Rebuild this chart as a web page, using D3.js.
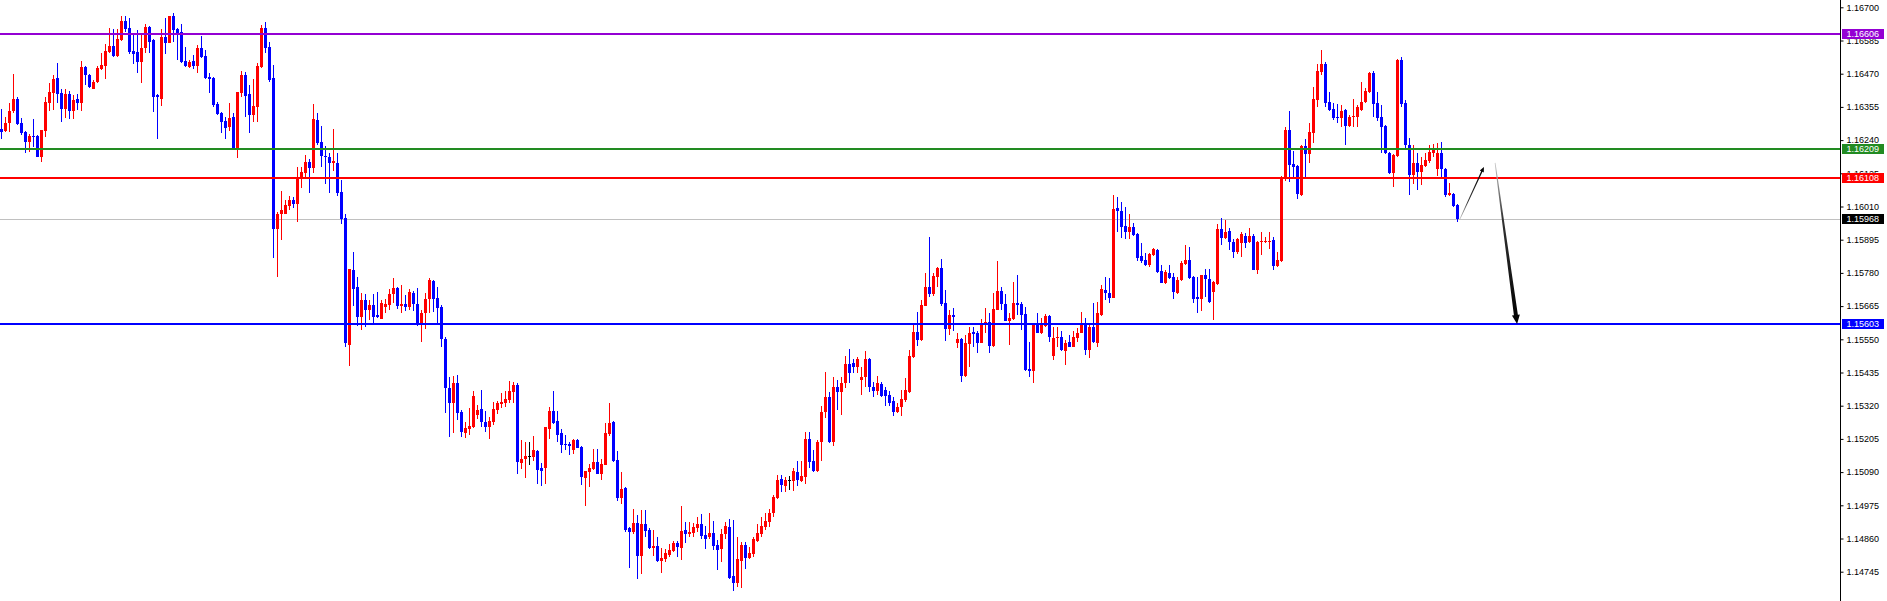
<!DOCTYPE html>
<html>
<head>
<meta charset="utf-8">
<script src="https://cdn.jsdelivr.net/npm/d3@7"></script>
<style>
  html, body { margin: 0; padding: 0; background: #fff; overflow: hidden; }
  svg { display: block; }
</style>
</head>
<body>
<script>
const width = 1887;
const height = 601;
const axisX = 1840;

// one row per bar: [open, high, low, close]
const ohlc = [
  [1.16278,1.16348,1.16244,1.16268],[1.16272,1.16320,1.16268,1.16299],[1.16299,1.16368,1.16268,1.16341],[1.16341,1.16469,1.16334,1.16382],
  [1.16382,1.16389,1.16292,1.16296],[1.16299,1.16317,1.16258,1.16265],[1.16268,1.16272,1.16195,1.16233],[1.16233,1.16261,1.16199,1.16254],
  [1.16254,1.16313,1.16216,1.16251],[1.16254,1.16258,1.16181,1.16181],[1.16181,1.16275,1.16164,1.16275],[1.16272,1.16389,1.16251,1.16372],
  [1.16368,1.16438,1.16341,1.16407],[1.16403,1.16465,1.16344,1.16452],[1.16455,1.16507,1.16368,1.16400],[1.16403,1.16417,1.16303,1.16348],
  [1.16348,1.16417,1.16317,1.16400],[1.16400,1.16410,1.16313,1.16341],[1.16341,1.16396,1.16313,1.16379],[1.16382,1.16400,1.16344,1.16368],
  [1.16368,1.16514,1.16341,1.16493],[1.16493,1.16497,1.16431,1.16465],[1.16465,1.16469,1.16420,1.16424],[1.16417,1.16448,1.16417,1.16441],
  [1.16441,1.16497,1.16438,1.16490],[1.16486,1.16542,1.16483,1.16500],[1.16497,1.16573,1.16452,1.16549],[1.16545,1.16628,1.16542,1.16566],
  [1.16566,1.16625,1.16528,1.16531],[1.16531,1.16625,1.16528,1.16590],[1.16587,1.16670,1.16583,1.16653],[1.16653,1.16670,1.16614,1.16625],
  [1.16628,1.16663,1.16538,1.16545],[1.16549,1.16608,1.16504,1.16538],[1.16545,1.16621,1.16472,1.16511],[1.16511,1.16611,1.16438,1.16559],
  [1.16559,1.16642,1.16542,1.16632],[1.16632,1.16635,1.16542,1.16580],[1.16587,1.16590,1.16337,1.16389],[1.16396,1.16400,1.16244,1.16389],
  [1.16382,1.16625,1.16358,1.16597],[1.16597,1.16663,1.16538,1.16576],[1.16576,1.16670,1.16576,1.16670],[1.16670,1.16680,1.16580,1.16621],
  [1.16625,1.16628,1.16517,1.16611],[1.16614,1.16642,1.16507,1.16511],[1.16514,1.16562,1.16493,1.16497],[1.16493,1.16517,1.16490,1.16511],
  [1.16514,1.16535,1.16486,1.16497],[1.16497,1.16569,1.16472,1.16559],[1.16559,1.16601,1.16524,1.16528],[1.16531,1.16552,1.16452,1.16455],
  [1.16459,1.16472,1.16403,1.16452],[1.16455,1.16459,1.16354,1.16361],[1.16365,1.16372,1.16327,1.16330],[1.16334,1.16337,1.16265,1.16303],
  [1.16306,1.16320,1.16244,1.16282],[1.16285,1.16368,1.16272,1.16317],[1.16320,1.16334,1.16209,1.16209],[1.16209,1.16407,1.16178,1.16407],
  [1.16403,1.16479,1.16389,1.16465],[1.16465,1.16476,1.16320,1.16393],[1.16400,1.16431,1.16265,1.16327],[1.16327,1.16452,1.16303,1.16358],
  [1.16354,1.16507,1.16303,1.16497],[1.16493,1.16639,1.16490,1.16628],[1.16628,1.16649,1.16542,1.16559],[1.16562,1.16580,1.16441,1.16448],
  [1.16455,1.16500,1.15832,1.15932],[1.15932,1.15991,1.15766,1.15984],[1.15984,1.16064,1.15894,1.15998],[1.15984,1.16033,1.15984,1.16015],
  [1.16012,1.16046,1.15998,1.16033],[1.16033,1.16043,1.16005,1.16019],[1.16019,1.16147,1.15956,1.16112],[1.16109,1.16147,1.16074,1.16129],
  [1.16126,1.16188,1.16109,1.16164],[1.16164,1.16174,1.16057,1.16143],[1.16143,1.16365,1.16126,1.16313],[1.16310,1.16334,1.16223,1.16230],
  [1.16233,1.16289,1.16147,1.16185],[1.16185,1.16220,1.16088,1.16181],[1.16181,1.16195,1.16057,1.16161],[1.16161,1.16278,1.16133,1.16168],
  [1.16161,1.16195,1.16046,1.16057],[1.16060,1.16102,1.15949,1.15967],[1.15970,1.15984,1.15523,1.15537],[1.15530,1.15794,1.15458,1.15794],
  [1.15790,1.15852,1.15665,1.15724],[1.15731,1.15766,1.15596,1.15627],[1.15627,1.15710,1.15582,1.15686],[1.15686,1.15707,1.15593,1.15651],
  [1.15651,1.15686,1.15617,1.15669],[1.15669,1.15707,1.15606,1.15627],[1.15634,1.15714,1.15624,1.15627],[1.15620,1.15686,1.15620,1.15676],
  [1.15662,1.15690,1.15641,1.15672],[1.15669,1.15724,1.15651,1.15707],[1.15707,1.15762,1.15676,1.15728],[1.15728,1.15731,1.15655,1.15665],
  [1.15665,1.15738,1.15641,1.15672],[1.15672,1.15703,1.15648,1.15662],[1.15662,1.15724,1.15651,1.15714],[1.15710,1.15717,1.15648,1.15672],
  [1.15672,1.15728,1.15596,1.15600],[1.15606,1.15651,1.15541,1.15641],[1.15641,1.15710,1.15586,1.15690],[1.15690,1.15762,1.15641,1.15755],
  [1.15752,1.15755,1.15645,1.15690],[1.15693,1.15731,1.15600,1.15658],[1.15662,1.15669,1.15523,1.15551],[1.15551,1.15558,1.15295,1.15381],
  [1.15381,1.15419,1.15212,1.15329],[1.15329,1.15423,1.15225,1.15399],[1.15399,1.15426,1.15270,1.15295],[1.15298,1.15305,1.15212,1.15229],
  [1.15225,1.15263,1.15208,1.15243],[1.15239,1.15312,1.15218,1.15250],[1.15246,1.15371,1.15243,1.15354],[1.15288,1.15322,1.15274,1.15305],
  [1.15309,1.15374,1.15246,1.15263],[1.15263,1.15302,1.15229,1.15246],[1.15246,1.15281,1.15205,1.15267],[1.15263,1.15333,1.15253,1.15309],
  [1.15305,1.15336,1.15291,1.15329],[1.15326,1.15364,1.15312,1.15333],[1.15329,1.15371,1.15315,1.15343],[1.15340,1.15406,1.15329,1.15371],
  [1.15367,1.15402,1.15329,1.15392],[1.15392,1.15399,1.15083,1.15125],[1.15121,1.15201,1.15101,1.15135],[1.15135,1.15194,1.15069,1.15146],
  [1.15146,1.15194,1.15115,1.15146],[1.15142,1.15215,1.15128,1.15167],[1.15163,1.15167,1.15049,1.15097],[1.15104,1.15121,1.15042,1.15094],
  [1.15104,1.15246,1.15049,1.15246],[1.15239,1.15315,1.15205,1.15302],[1.15302,1.15371,1.15257,1.15260],[1.15267,1.15302,1.15194,1.15218],
  [1.15225,1.15239,1.15156,1.15184],[1.15187,1.15218,1.15167,1.15184],[1.15187,1.15194,1.15149,1.15180],[1.15167,1.15205,1.15153,1.15201],
  [1.15201,1.15205,1.15173,1.15173],[1.15177,1.15180,1.15045,1.15073],[1.15069,1.15094,1.14972,1.15094],[1.15090,1.15118,1.15038,1.15104],
  [1.15101,1.15170,1.15097,1.15125],[1.15125,1.15170,1.15083,1.15083],[1.15083,1.15135,1.15063,1.15118],[1.15115,1.15260,1.15115,1.15225],
  [1.15222,1.15329,1.15215,1.15260],[1.15263,1.15267,1.15125,1.15128],[1.15132,1.15163,1.14990,1.15000],[1.15000,1.15090,1.14979,1.15031],
  [1.15035,1.15038,1.14882,1.14889],[1.14896,1.14900,1.14758,1.14882],[1.14882,1.14962,1.14876,1.14914],[1.14914,1.14941,1.14720,1.14799],
  [1.14799,1.14959,1.14737,1.14910],[1.14910,1.14959,1.14865,1.14886],[1.14889,1.14896,1.14824,1.14827],[1.14827,1.14889,1.14799,1.14834],
  [1.14834,1.14865,1.14778,1.14782],[1.14782,1.14827,1.14740,1.14792],[1.14789,1.14824,1.14778,1.14810],[1.14803,1.14841,1.14796,1.14820],
  [1.14817,1.14851,1.14813,1.14844],[1.14844,1.14851,1.14796,1.14830],[1.14827,1.14972,1.14785,1.14886],[1.14889,1.14917,1.14844,1.14876],
  [1.14876,1.14917,1.14865,1.14882],[1.14879,1.14914,1.14865,1.14900],[1.14896,1.14934,1.14882,1.14910],[1.14910,1.14945,1.14858,1.14869],
  [1.14872,1.14903,1.14824,1.14858],[1.14865,1.14948,1.14858,1.14879],[1.14879,1.14920,1.14820,1.14834],[1.14837,1.14855,1.14751,1.14820],
  [1.14824,1.14893,1.14778,1.14876],[1.14876,1.14917,1.14858,1.14903],[1.14900,1.14927,1.14720,1.14723],[1.14730,1.14924,1.14678,1.14706],
  [1.14706,1.14865,1.14692,1.14789],[1.14782,1.14848,1.14689,1.14837],[1.14837,1.14848,1.14754,1.14792],[1.14792,1.14830,1.14789,1.14810],
  [1.14806,1.14865,1.14796,1.14858],[1.14851,1.14910,1.14848,1.14879],[1.14876,1.14934,1.14865,1.14903],[1.14900,1.14948,1.14889,1.14920],
  [1.14917,1.14962,1.14900,1.14948],[1.14948,1.15011,1.14934,1.15004],[1.15000,1.15080,1.14997,1.15063],[1.15066,1.15080,1.15021,1.15045],
  [1.15042,1.15073,1.15021,1.15063],[1.15063,1.15076,1.15028,1.15063],[1.15059,1.15104,1.15024,1.15094],[1.15090,1.15128,1.15042,1.15063],
  [1.15059,1.15128,1.15056,1.15076],[1.15073,1.15229,1.15049,1.15205],[1.15205,1.15229,1.15104,1.15125],[1.15128,1.15167,1.15090,1.15094],
  [1.15094,1.15201,1.15090,1.15194],[1.15194,1.15319,1.15128,1.15298],[1.15298,1.15437,1.15277,1.15350],[1.15350,1.15367,1.15191,1.15194],
  [1.15194,1.15419,1.15180,1.15385],[1.15385,1.15409,1.15305,1.15367],[1.15367,1.15419,1.15288,1.15399],[1.15399,1.15492,1.15381,1.15464],
  [1.15464,1.15516,1.15399,1.15433],[1.15468,1.15482,1.15433,1.15454],[1.15454,1.15489,1.15433,1.15482],[1.15409,1.15454,1.15357,1.15419],
  [1.15419,1.15509,1.15385,1.15482],[1.15482,1.15485,1.15367,1.15385],[1.15385,1.15402,1.15350,1.15371],[1.15371,1.15423,1.15357,1.15399],
  [1.15395,1.15402,1.15350,1.15354],[1.15374,1.15385,1.15319,1.15354],[1.15357,1.15371,1.15319,1.15329],[1.15336,1.15350,1.15284,1.15298],
  [1.15298,1.15329,1.15295,1.15315],[1.15315,1.15374,1.15284,1.15343],[1.15340,1.15416,1.15333,1.15374],[1.15367,1.15513,1.15364,1.15492],
  [1.15489,1.15603,1.15485,1.15575],[1.15575,1.15645,1.15527,1.15548],[1.15548,1.15686,1.15544,1.15669],[1.15665,1.15780,1.15665,1.15731],
  [1.15731,1.15904,1.15696,1.15707],[1.15707,1.15780,1.15700,1.15769],[1.15766,1.15800,1.15731,1.15797],[1.15797,1.15828,1.15665,1.15672],
  [1.15676,1.15721,1.15544,1.15586],[1.15586,1.15651,1.15565,1.15634],[1.15634,1.15658,1.15579,1.15627],[1.15537,1.15572,1.15520,1.15551],
  [1.15551,1.15554,1.15402,1.15423],[1.15423,1.15565,1.15419,1.15537],[1.15534,1.15593,1.15454,1.15572],[1.15575,1.15593,1.15523,1.15568],
  [1.15572,1.15579,1.15503,1.15537],[1.15537,1.15620,1.15537,1.15606],[1.15603,1.15658,1.15572,1.15610],[1.15610,1.15641,1.15503,1.15527],
  [1.15527,1.15710,1.15523,1.15655],[1.15651,1.15821,1.15651,1.15717],[1.15717,1.15731,1.15651,1.15672],[1.15672,1.15707,1.15613,1.15613],
  [1.15613,1.15641,1.15530,1.15624],[1.15620,1.15748,1.15617,1.15676],[1.15676,1.15773,1.15634,1.15669],[1.15672,1.15679,1.15582,1.15634],
  [1.15638,1.15662,1.15440,1.15444],[1.15447,1.15541,1.15419,1.15440],[1.15440,1.15603,1.15399,1.15603],[1.15600,1.15641,1.15572,1.15572],
  [1.15572,1.15624,1.15568,1.15606],[1.15596,1.15638,1.15593,1.15631],[1.15631,1.15634,1.15541,1.15558],[1.15492,1.15593,1.15478,1.15554],
  [1.15554,1.15593,1.15523,1.15558],[1.15558,1.15579,1.15509,1.15513],[1.15509,1.15548,1.15461,1.15537],[1.15541,1.15565,1.15523,1.15523],
  [1.15523,1.15579,1.15523,1.15558],[1.15554,1.15589,1.15541,1.15572],[1.15572,1.15645,1.15572,1.15603],[1.15603,1.15624,1.15496,1.15513],
  [1.15513,1.15600,1.15485,1.15593],[1.15593,1.15676,1.15537,1.15541],[1.15537,1.15679,1.15523,1.15641],[1.15634,1.15738,1.15631,1.15724],
  [1.15721,1.15766,1.15686,1.15710],[1.15710,1.15762,1.15676,1.15693],[1.15693,1.16050,1.15693,1.16001],[1.16005,1.16043,1.15922,1.15994],
  [1.15994,1.16026,1.15901,1.15939],[1.15942,1.16008,1.15897,1.15922],[1.15922,1.15984,1.15897,1.15939],[1.15939,1.15953,1.15908,1.15911],
  [1.15915,1.15918,1.15821,1.15832],[1.15839,1.15884,1.15814,1.15821],[1.15825,1.15849,1.15804,1.15807],[1.15807,1.15849,1.15800,1.15845],
  [1.15842,1.15866,1.15839,1.15863],[1.15859,1.15863,1.15780,1.15783],[1.15787,1.15807,1.15745,1.15745],[1.15745,1.15790,1.15741,1.15783],
  [1.15780,1.15807,1.15759,1.15762],[1.15766,1.15780,1.15690,1.15714],[1.15710,1.15766,1.15707,1.15755],[1.15755,1.15821,1.15752,1.15814],
  [1.15811,1.15877,1.15807,1.15825],[1.15825,1.15870,1.15759,1.15762],[1.15766,1.15769,1.15676,1.15690],[1.15696,1.15766,1.15641,1.15690],
  [1.15690,1.15773,1.15648,1.15773],[1.15773,1.15794,1.15696,1.15759],[1.15759,1.15794,1.15676,1.15679],[1.15714,1.15752,1.15617,1.15748],
  [1.15741,1.15949,1.15738,1.15932],[1.15932,1.15970,1.15877,1.15901],[1.15901,1.15963,1.15897,1.15922],[1.15925,1.15935,1.15859,1.15887],
  [1.15887,1.15897,1.15832,1.15852],[1.15852,1.15901,1.15845,1.15897],[1.15884,1.15922,1.15835,1.15915],[1.15908,1.15918,1.15866,1.15884],
  [1.15887,1.15935,1.15884,1.15908],[1.15908,1.15915,1.15790,1.15790],[1.15790,1.15891,1.15776,1.15887],[1.15887,1.15922,1.15842,1.15891],
  [1.15887,1.15904,1.15884,1.15891],[1.15887,1.15922,1.15863,1.15891],[1.15894,1.15904,1.15790,1.15804],[1.15804,1.15852,1.15800,1.15825],
  [1.15821,1.16116,1.15818,1.16112],[1.16109,1.16285,1.16098,1.16275],[1.16275,1.16341,1.16095,1.16154],[1.16157,1.16202,1.16112,1.16147],
  [1.16150,1.16154,1.16036,1.16053],[1.16050,1.16223,1.16046,1.16220],[1.16220,1.16244,1.16112,1.16192],[1.16192,1.16299,1.16161,1.16268],
  [1.16265,1.16424,1.16230,1.16382],[1.16379,1.16504,1.16354,1.16479],[1.16476,1.16552,1.16465,1.16504],[1.16504,1.16511,1.16354,1.16368],
  [1.16372,1.16407,1.16341,1.16344],[1.16348,1.16368,1.16310,1.16317],[1.16320,1.16365,1.16299,1.16317],[1.16317,1.16361,1.16285,1.16341],
  [1.16344,1.16348,1.16223,1.16289],[1.16289,1.16327,1.16285,1.16320],[1.16320,1.16382,1.16285,1.16323],[1.16320,1.16361,1.16285,1.16354],
  [1.16344,1.16441,1.16341,1.16372],[1.16372,1.16420,1.16368,1.16410],[1.16407,1.16476,1.16403,1.16472],[1.16472,1.16479,1.16320,1.16365],
  [1.16368,1.16407,1.16306,1.16317],[1.16320,1.16361,1.16195,1.16285],[1.16289,1.16292,1.16192,1.16195],[1.16195,1.16199,1.16123,1.16126],
  [1.16126,1.16192,1.16078,1.16188],[1.16185,1.16521,1.16181,1.16517],[1.16517,1.16528,1.16354,1.16365],[1.16368,1.16379,1.16213,1.16223],
  [1.16223,1.16247,1.16050,1.16119],[1.16119,1.16223,1.16088,1.16161],[1.16161,1.16195,1.16067,1.16129],[1.16129,1.16181,1.16084,1.16154],
  [1.16150,1.16195,1.16147,1.16171],[1.16168,1.16223,1.16161,1.16199],[1.16195,1.16226,1.16181,1.16209],[1.16140,1.16230,1.16116,1.16195],
  [1.16195,1.16233,1.16109,1.16140],[1.16140,1.16143,1.16043,1.16050],[1.16050,1.16091,1.16046,1.16057],[1.16053,1.16057,1.16008,1.16012],
  [1.16015,1.16019,1.15956,1.15968]
];

const tickValues = [1.16700, 1.16585, 1.16470, 1.16355, 1.16240, 1.16125, 1.16010, 1.15895, 1.15780,
  1.15665, 1.15550, 1.15435, 1.15320, 1.15205, 1.15090, 1.14975, 1.14860, 1.14745];

const levelPrices = [1.16606, 1.16209, 1.16108, 1.15603];
const currentPrice = 1.15968;

// drawn arrows, as [bar index, price] pairs
const arrowUp = [[364.6, 1.15966], [370.6, 1.16147]];
const arrowDown = [[373.4, 1.16161], [378.9, 1.15603]];

const levelColors = ['#9400d3', '#228b22', '#ff0000', '#0000ff'];
const bullColor = '#ff0000';
const bearColor = '#0000ff';

const svg = d3.select('body')
  .append('svg')
  .attr('width', width)
  .attr('height', height);

svg.append('rect')
  .attr('width', width)
  .attr('height', height)
  .attr('fill', '#fff');

const xScale = d3.scaleLinear()
  .domain([0, ohlc.length - 1])
  .range([1.5, 1.5 + 4 * (ohlc.length - 1)]);

const yScale = d3.scaleLinear()
  .domain([1.14745, 1.16700])
  .range([571.7, 7.3]);

const fmt = d3.format('.5f');

// bid line sits behind the bars
svg.append('line')
  .attr('x1', 0)
  .attr('x2', axisX)
  .attr('y1', Math.round(yScale(currentPrice)) + 0.5)
  .attr('y2', Math.round(yScale(currentPrice)) + 0.5)
  .attr('stroke', '#c0c0c0')
  .attr('stroke-width', 1);

function barColor(d) {
  if (d[0] === d[3]) return '#000';
  return d[3] > d[0] ? bullColor : bearColor;
}

const bars = svg.append('g').attr('shape-rendering', 'crispEdges');

bars.selectAll('line.wick')
  .data(ohlc)
  .enter()
  .append('line')
  .attr('class', 'wick')
  .attr('x1', (d, i) => xScale(i))
  .attr('x2', (d, i) => xScale(i))
  .attr('y1', d => yScale(d[1]))
  .attr('y2', d => yScale(d[2]))
  .attr('stroke', barColor)
  .attr('stroke-width', 1);

bars.selectAll('rect.body')
  .data(ohlc)
  .enter()
  .append('rect')
  .attr('class', 'body')
  .attr('x', (d, i) => xScale(i) - 1.5)
  .attr('width', 3)
  .attr('y', d => yScale(Math.max(d[0], d[3])))
  .attr('height', d => Math.max(1, Math.abs(yScale(d[0]) - yScale(d[3]))))
  .attr('fill', barColor);

// horizontal levels
svg.selectAll('line.level')
  .data(levelPrices)
  .enter()
  .append('line')
  .attr('class', 'level')
  .attr('x1', 0)
  .attr('x2', axisX)
  .attr('y1', d => Math.round(yScale(d)))
  .attr('y2', d => Math.round(yScale(d)))
  .attr('stroke', (d, i) => levelColors[i])
  .attr('stroke-width', 2);

// arrows
function toScreen(p) {
  return [xScale(p[0]), yScale(p[1])];
}

const defs = svg.append('defs');

function drawArrow(pts, w0, w1, headLen, headHalf, id) {
  const a = toScreen(pts[0]);
  const b = toScreen(pts[1]);
  const dx = b[0] - a[0];
  const dy = b[1] - a[1];
  const len = Math.sqrt(dx * dx + dy * dy);
  const ux = dx / len, uy = dy / len;
  const nx = -uy, ny = ux;
  const bx = b[0] - ux * headLen, by = b[1] - uy * headLen;

  const grad = defs.append('linearGradient')
    .attr('id', id)
    .attr('gradientUnits', 'userSpaceOnUse')
    .attr('x1', a[0]).attr('y1', a[1])
    .attr('x2', b[0]).attr('y2', b[1]);
  grad.append('stop').attr('offset', '0%').attr('stop-color', '#c8c8c8');
  grad.append('stop').attr('offset', '35%').attr('stop-color', '#333');
  grad.append('stop').attr('offset', '100%').attr('stop-color', '#000');

  const poly = [
    [a[0] + nx * w0, a[1] + ny * w0],
    [bx + nx * w1, by + ny * w1],
    [bx + nx * headHalf, by + ny * headHalf],
    b,
    [bx - nx * headHalf, by - ny * headHalf],
    [bx - nx * w1, by - ny * w1],
    [a[0] - nx * w0, a[1] - ny * w0]
  ];
  svg.append('path')
    .attr('d', d3.line()(poly) + 'Z')
    .attr('fill', `url(#${id})`);
}

drawArrow(arrowUp, 0.4, 0.7, 5, 2.2, 'gradUp');
drawArrow(arrowDown, 0.4, 2.0, 9, 4, 'gradDown');

// price axis
const yAxis = d3.axisRight(yScale)
  .tickValues(tickValues)
  .tickSize(3)
  .tickPadding(3)
  .tickFormat(fmt);

const axisG = svg.append('g')
  .attr('transform', `translate(${axisX + 0.5}, 0)`)
  .call(yAxis);

axisG.select('.domain').remove();
axisG.selectAll('.tick line').attr('stroke', '#000');
axisG.selectAll('.tick text')
  .attr('fill', '#000')
  .attr('font-family', '"Liberation Sans", Arial, sans-serif')
  .attr('font-size', '9px');

svg.append('line')
  .attr('x1', axisX + 0.5)
  .attr('x2', axisX + 0.5)
  .attr('y1', 0)
  .attr('y2', height)
  .attr('stroke', '#000')
  .attr('stroke-width', 1);

// price tags on the axis
const tagPrices = levelPrices.concat([currentPrice]);
const tagColors = levelColors.concat(['#000']);

const tags = svg.selectAll('g.tag')
  .data(tagPrices)
  .enter()
  .append('g')
  .attr('class', 'tag')
  .attr('transform', d => `translate(${axisX + 2}, ${Math.round(yScale(d))})`);

tags.append('rect')
  .attr('x', 0)
  .attr('y', -5)
  .attr('width', 42)
  .attr('height', 10)
  .attr('fill', (d, i) => tagColors[i]);

tags.append('text')
  .attr('x', 4.5)
  .attr('dy', '0.35em')
  .attr('fill', '#fff')
  .attr('font-family', '"Liberation Sans", Arial, sans-serif')
  .attr('font-size', '9px')
  .text(d => fmt(d));
</script>
</body>
</html>
